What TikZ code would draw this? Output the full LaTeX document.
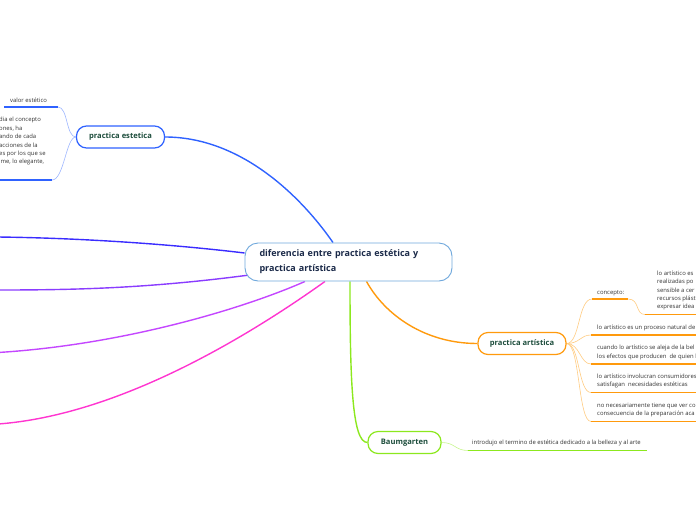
\documentclass[tikz,border=0pt]{standalone}
\usepackage{fontspec}
\setmainfont{Open Sans}
\definecolor{cblue}{HTML}{6FA8DC}
\definecolor{navy}{HTML}{1B2A49}
\definecolor{dkgreen}{HTML}{1D4D3C}
\definecolor{pblue}{HTML}{2F62FF}
\definecolor{pbluel}{HTML}{9DB6FF}
\definecolor{lone}{HTML}{3A2CFF}
\definecolor{ltwo}{HTML}{8A3CFF}
\definecolor{lthree}{HTML}{C447FF}
\definecolor{lfour}{HTML}{FF35D0}
\definecolor{orng}{HTML}{FF9A0D}
\definecolor{orngl}{HTML}{FFCB80}
\definecolor{grn}{HTML}{8CE81E}
\definecolor{grnl}{HTML}{C8F590}
\definecolor{txt}{HTML}{333333}
\pgfdeclarelayer{bg}
\pgfsetlayers{bg,main}
\begin{document}
\begin{tikzpicture}[x=1pt,y=-1pt,
  mainbox/.style={draw=cblue, line width=0.9pt, rounded corners=13pt, fill=white,
    minimum width=207pt, minimum height=38pt, text=navy, inner sep=0pt, text width=178pt,
    font=\fontsize{9}{15}\selectfont\bfseries, align=left},
  topic/.style={rounded corners=10pt, line width=1.2pt, fill=white, text=dkgreen,
    font=\fontsize{7.6}{9}\selectfont\bfseries, minimum height=22pt, inner sep=0pt},
  small/.style={font=\fontsize{5.9}{8.4}\selectfont, text=txt, anchor=south west,
    align=left, inner sep=0pt, text depth=0pt},
  conn/.style={line width=1.4pt},
  thin/.style={line width=0.6pt},
  uline/.style={line width=1.6pt}]
\useasboundingbox (0,0) rectangle (696,520);
\clip (0,0) rectangle (696,520);

% main nodes
\node[mainbox] (main) at (348.5,262) {diferencia entre practica estética y\\practica artística};
\node[topic, draw=pblue, minimum width=88pt] (pe) at (120.5,137) {practica estetica};
\node[topic, draw=orng, minimum width=88pt] (pa) at (522,343.5) {practica artística};
\node[topic, draw=grn, minimum width=73pt] (bg) at (404.5,442.5) {Baumgarten};

% free ends of the left branches
\coordinate (l1) at (-2,237);
\coordinate (l2) at (-2,290);
\coordinate (l3) at (-2,352.5);
\coordinate (l4) at (-2,424);

% practica estetica children
\node[small] (ve) at (10,103) {valor estético};
\coordinate (ve1) at (4,107);
\coordinate (ve2) at (58,107);
\node[small] (lb) at (-1,164) {dia el concepto\\ones, ha\\ando de cada\\acciones de la\\es por los que se\\ime, lo elegante,};
\coordinate (lb1) at (-2,180);
\coordinate (lb2) at (52,180);

% practica artistica children
\node[small] (cp) at (597,294.5) {concepto:};
\coordinate (cp1) at (592,299);
\coordinate (cp2) at (628,299);
\node[small] (cb) at (657,309) {lo artístico es\\realizadas po\\sensible a cer\\recursos plást\\expresar idea};
\coordinate (cb1) at (645,314.5);
\coordinate (cb2) at (700,314.5);
\node[small] (a1) at (597,330) {lo artístico es un proceso natural de};
\coordinate (a1a) at (591,335);
\coordinate (a1b) at (700,335);
\node[small] (a2) at (597,358.5) {cuando lo artístico se aleja de la bel\\los efectos que producen\ \ de quien l};
\coordinate (a2a) at (591,364);
\coordinate (a2b) at (700,364);
\node[small] (a3) at (597,387) {lo artístico involucran consumidores\\satisfagan\ \ necesidades estéticas};
\coordinate (a3a) at (591,392.5);
\coordinate (a3b) at (700,392.5);
\node[small] (a4) at (597,416) {no necesariamente tiene que ver co\\consecuencia de la preparación aca};
\coordinate (a4a) at (591,421.5);
\coordinate (a4b) at (700,421.5);

% Baumgarten child
\node[small] (bc) at (472,445) {introdujo el termino de estética dedicado a la belleza y al arte};
\coordinate (bc1) at (468,450.5);
\coordinate (bc2) at (647,450.5);

\begin{pgfonlayer}{bg}
% main branches
\draw[conn, pblue] ([xshift=-15.5pt]main.north) .. controls (300,195) and (240,137) .. (pe.east);
\draw[conn, lone] ([yshift=9pt]main.west) .. controls (170,244) and (80,238) .. (l1);
\draw[conn, ltwo] ([shift={(5pt,-13pt)}]main.west) .. controls (150,288) and (80,290) .. (l2);
\draw[conn, lthree] ([xshift=-43.5pt]main.south) .. controls (240,310) and (120,345) .. (l3);
\draw[conn, lfour] ([xshift=-23.5pt]main.south) .. controls (250,335) and (120,415) .. (l4);
\draw[conn, orng] ([xshift=18pt]main.south) .. controls (385,315) and (425,343.5) .. (pa.west);
\draw[conn, grn] ([xshift=1.5pt]main.south) .. controls (350,380) and (352,442.5) .. (bg.west);

% practica estetica sub-branches
\draw[thin, pbluel] (pe.west) .. controls (66,137) and (68,107) .. (ve2);
\draw[uline, pblue] (ve1) -- (ve2);
\draw[thin, pbluel] (pe.west) .. controls (66,137) and (64,180) .. (lb2);
\draw[uline, pblue] (lb1) -- (lb2);

% practica artistica sub-branches
\draw[thin, orngl] (pa.east) .. controls (580,343.5) and (578,299) .. (cp1);
\draw[uline, orng] (cp1) -- (cp2);
\draw[thin, orngl] (cp2) .. controls (640,299) and (635,314.5) .. (cb1);
\draw[uline, orng] (cb1) -- (cb2);
\draw[thin, orngl] (pa.east) .. controls (580,343.5) and (580,335) .. (a1a);
\draw[uline, orng] (a1a) -- (a1b);
\draw[thin, orngl] (pa.east) .. controls (580,343.5) and (580,364) .. (a2a);
\draw[uline, orng] (a2a) -- (a2b);
\draw[thin, orngl] (pa.east) .. controls (580,343.5) and (578,392.5) .. (a3a);
\draw[uline, orng] (a3a) -- (a3b);
\draw[thin, orngl] (pa.east) .. controls (580,343.5) and (578,421.5) .. (a4a);
\draw[uline, orng] (a4a) -- (a4b);

% Baumgarten sub-branch
\draw[thin, grnl] (bg.east) .. controls (455,442.5) and (455,450.5) .. (bc1);
\draw[uline, grn] (bc1) -- (bc2);
\end{pgfonlayer}
\end{tikzpicture}
\end{document}
